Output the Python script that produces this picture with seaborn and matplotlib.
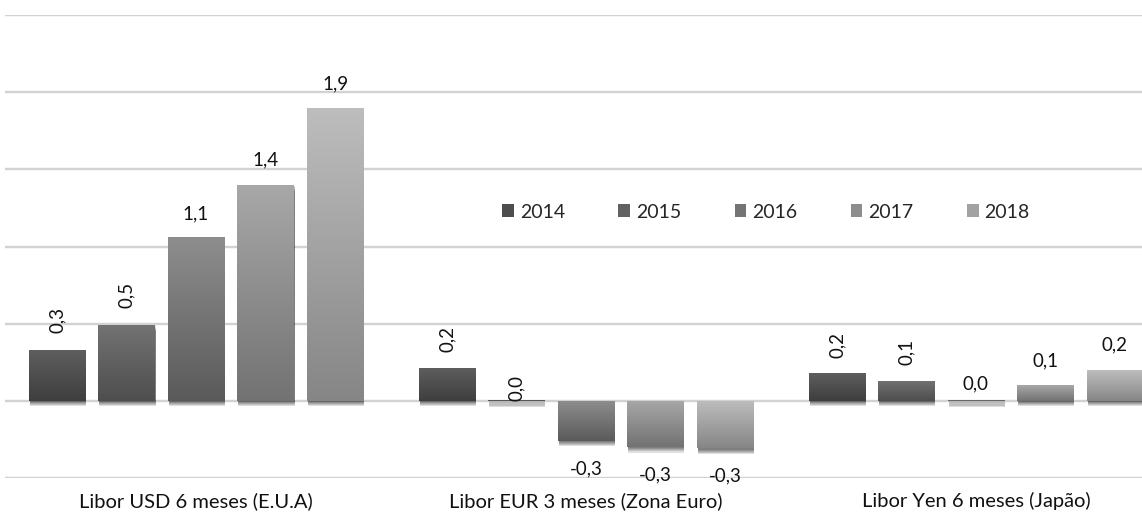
import matplotlib
matplotlib.use('Agg')
import matplotlib.pyplot as plt
import matplotlib.patheffects as pe
from matplotlib.colors import LinearSegmentedColormap
from matplotlib.patches import Patch
import numpy as np
import pandas as pd
import seaborn as sns


groups = ['Libor USD 6 meses (E.U.A)', 'Libor EUR 3 meses (Zona Euro)', 'Libor Yen 6 meses (Japão)']
years = ['2014', '2015', '2016', '2017', '2018']
usd = [0.33, 0.49, 1.06, 1.40, 1.90]
eur = [0.21, -0.01, -0.26, -0.30, -0.31]
yen = [0.18, 0.13, 0.01, 0.10, 0.20]

# gradient per year: (bottom, top)
shades = [('#3e3e3e', '#5e5e5e'), ('#4e4e4e', '#737373'), ('#5a5a5a', '#8e8e8e'),
          ('#727272', '#a8a8a8'), ('#868686', '#bdbdbd')]

rows = []
for g, vals in zip(groups, [usd, eur, yen]):
    for y, v in zip(years, vals):
        rows.append({'grupo': g, 'ano': y, 'valor': v})
df = pd.DataFrame(rows)

sns.set_style('white')
plt.rcParams['font.family'] = ['Lato', 'DejaVu Sans']

fig = plt.figure(figsize=(11.42, 5.21), dpi=100)
ax = fig.add_axes([5 / 1142, (521 - 478) / 521, 1137 / 1142, (478 - 15) / 521])

sns.barplot(df, x='grupo', y='valor', hue='ano', order=groups, hue_order=years,
            palette=[s[1] for s in shades], width=0.891, gap=0.19, ax=ax)

ax.set_yticks(np.arange(-0.5, 2.51, 0.5))
ax.yaxis.grid(True, color='#d2d2d2', lw=1.7)
ax.set_axisbelow(True)
ax.set_yticklabels([])
ax.tick_params(axis='both', length=0)
ax.tick_params(axis='x', labelsize=14.5, pad=10, colors='#111111')
ax.set_xlabel('')
ax.set_ylabel('')
for s in ax.spines.values():
    s.set_visible(False)

# gradient fill + soft shadow
shadow = [pe.SimplePatchShadow(offset=(0.6, -d), shadow_rgbFace='k', alpha=0.13)
          for d in (1.0, 1.8, 2.6, 3.4, 4.2)]
grad = np.linspace(0, 1, 256)[:, None]
for (bot, top), cont in zip(shades, ax.containers):
    cmap = LinearSegmentedColormap.from_list('g', [bot, top])
    for bar in cont:
        bb = bar.get_bbox()
        x0, x1 = bb.x0, bb.x1
        y0, y1 = min(bb.y0, bb.y1), max(bb.y0, bb.y1)
        if y1 - y0 < 0.012:
            y0, y1 = -0.006, 0.006
            bar.set_y(y0)
            bar.set_height(y1 - y0)
        bar.set_path_effects(shadow + [pe.Normal()])
        bar.set_edgecolor('none')
        im = ax.imshow(grad, extent=[x0, x1, y0, y1], origin='lower', cmap=cmap,
                       aspect='auto', zorder=bar.get_zorder() + 0.1)
        im.set_clip_path(bar)

ax.set_xlim(-0.49, 2.426)
ax.set_ylim(-0.503, 2.503)

# data labels
rotated = [[True, True, False, False, False],
           [True, True, False, False, False],
           [True, True, False, False, False]]
offsets = [[12, 12, 11, 12, 11],
           [12, 0, 14, 14, 14],
           [11, 11, 5, 11, 12]]
data = [usd, eur, yen]
for j, cont in enumerate(ax.containers):
    for i, bar in enumerate(cont):
        v = data[i][j]
        txt = f'{abs(v) if round(v, 1) == 0 else v:.1f}'.replace('.', ',')
        xc = bar.get_x() + bar.get_width() / 2
        if v < -0.05:
            ax.annotate(txt, (xc, v), xytext=(0, -offsets[i][j]), textcoords='offset points',
                        ha='center', va='top', fontsize=13.5, color='#111111')
        else:
            ax.annotate(txt, (xc, max(v, 0)), xytext=(0, offsets[i][j]), textcoords='offset points',
                        ha='center', va='bottom', fontsize=13.5, color='#111111',
                        rotation=90 if rotated[i][j] else 0)

ax.get_legend().remove()
handles = [Patch(facecolor=LinearSegmentedColormap.from_list('h', list(s))(0.5), edgecolor='none')
           for s in shades]
fig.legend(handles, years, ncol=5, frameon=False, loc='center',
           bbox_to_anchor=(766 / 1142, 1 - 212 / 521), fontsize=14,
           handlelength=0.6, handleheight=0.6, handletextpad=0.3, columnspacing=2.75)

fig.savefig('out.png', dpi=100)
